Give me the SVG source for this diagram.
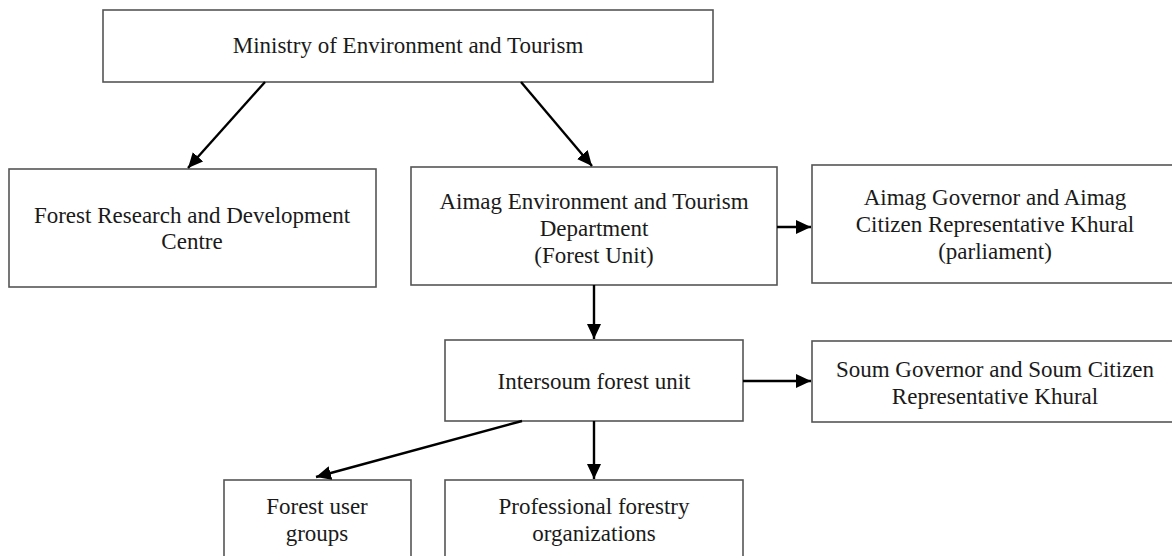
<svg xmlns="http://www.w3.org/2000/svg" width="1172" height="556" viewBox="0 0 1172 556">
  <style>
    .box { fill: #ffffff; stroke: #555555; stroke-width: 1.6; }
    .lbl { font-family: "Liberation Serif", "Times New Roman", serif; font-size: 23px; fill: #1a1a1a; text-anchor: middle; }
    .edge { stroke: #000000; stroke-width: 2.4; fill: none; marker-end: url(#head); }
  </style>
  <defs>
    <marker id="head" markerUnits="userSpaceOnUse" markerWidth="16" markerHeight="14" refX="15" refY="7" orient="auto">
      <path d="M0,0 L15,7 L0,14 Z" fill="#000000"/>
    </marker>
  </defs>
  <rect width="1172" height="556" fill="#ffffff"/>

  <g id="ministry">
    <rect class="box" x="103" y="10" width="610" height="72"/>
    <text class="lbl" x="408" y="53">Ministry of Environment and Tourism</text>
  </g>

  <g id="forest-research">
    <rect class="box" x="9" y="169" width="367" height="118"/>
    <text class="lbl" x="192" y="223">Forest Research and Development</text>
    <text class="lbl" x="192" y="249">Centre</text>
  </g>

  <g id="aimag-department">
    <rect class="box" x="411" y="167" width="366" height="118"/>
    <text class="lbl" x="594" y="209">Aimag Environment and Tourism</text>
    <text class="lbl" x="594" y="236">Department</text>
    <text class="lbl" x="594" y="263">(Forest Unit)</text>
  </g>

  <g id="aimag-governor">
    <rect class="box" x="812" y="165" width="370" height="118"/>
    <text class="lbl" x="995" y="205">Aimag Governor and Aimag</text>
    <text class="lbl" x="995" y="232">Citizen Representative Khural</text>
    <text class="lbl" x="995" y="259">(parliament)</text>
  </g>

  <g id="intersoum">
    <rect class="box" x="445" y="340" width="298" height="81"/>
    <text class="lbl" x="594" y="389">Intersoum forest unit</text>
  </g>

  <g id="soum-governor">
    <rect class="box" x="812" y="341" width="370" height="81"/>
    <text class="lbl" x="995" y="377">Soum Governor and Soum Citizen</text>
    <text class="lbl" x="995" y="404">Representative Khural</text>
  </g>

  <g id="forest-user-groups">
    <rect class="box" x="224" y="480" width="187" height="90"/>
    <text class="lbl" x="317" y="514">Forest user</text>
    <text class="lbl" x="317" y="541">groups</text>
  </g>

  <g id="professional-forestry">
    <rect class="box" x="445" y="480" width="298" height="90"/>
    <text class="lbl" x="594" y="514">Professional forestry</text>
    <text class="lbl" x="594" y="541">organizations</text>
  </g>

  <g id="connectors">
    <line class="edge" x1="265" y1="82" x2="188" y2="168"/>
    <line class="edge" x1="521" y1="82" x2="592" y2="166"/>
    <line class="edge" x1="777" y1="227" x2="811" y2="227"/>
    <line class="edge" x1="594" y1="285" x2="594" y2="339"/>
    <line class="edge" x1="743" y1="381" x2="811" y2="381"/>
    <line class="edge" x1="522" y1="421" x2="316" y2="477"/>
    <line class="edge" x1="594" y1="421" x2="594" y2="479"/>
  </g>
</svg>
